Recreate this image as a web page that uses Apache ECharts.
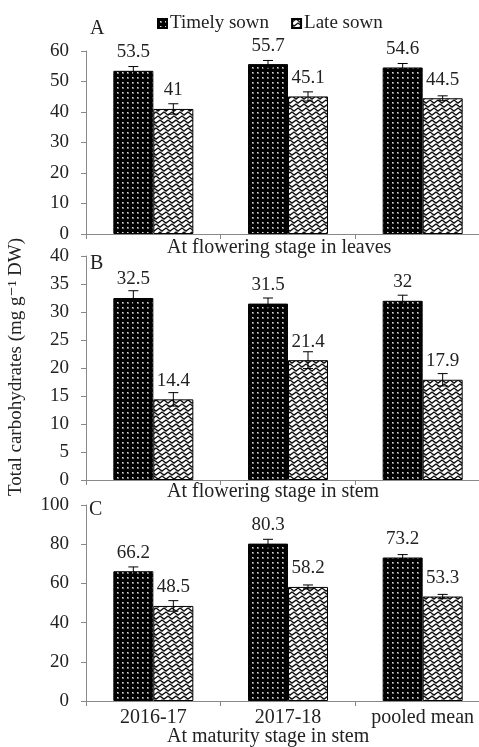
<!DOCTYPE html>
<html>
<head>
<meta charset="utf-8">
<script src="https://cdn.jsdelivr.net/npm/echarts@6/dist/echarts.min.js"></script>
<style>
  html, body { margin: 0; padding: 0; background: #fff; overflow: hidden; width: 479px; height: 747px; }
  /* chart is a bit wider than the window: the reference's plot area is cut at the right edge */
  #chart-container { width: 490px; height: 747px; }
</style>
</head>
<body>
<div id="chart-container"></div>
<script>
const categories = ['2016-17', '2017-18', 'pooled mean'];
const seriesNames = ['Timely sown', 'Late sown'];

// panel A - flowering, leaves
const timelyA = [53.5, 55.7, 54.6];
const lateA = [41, 45.1, 44.5];
const timelyAErr = [1.4, 1.2, 1.3];
const lateAErr = [1.7, 1.5, 0.8];

// panel B - flowering, stem
const timelyB = [32.5, 31.5, 32];
const lateB = [14.4, 21.4, 17.9];
const timelyBErr = [1.3, 1.0, 1.0];
const lateBErr = [1.2, 1.5, 1.1];

// panel C - maturity, stem
const timelyC = [66.2, 80.3, 73.2];
const lateC = [48.5, 58.2, 53.3];
const timelyCErr = [2.2, 2.2, 1.5];
const lateCErr = [2.7, 1.0, 1.1];

const FONT = 'Liberation Serif, DejaVu Serif, serif';
const BAR_W = 40;

function dotPattern() {
    const c = document.createElement('canvas');
    c.width = 5; c.height = 5;
    const ctx = c.getContext('2d');
    ctx.fillStyle = '#000';
    ctx.fillRect(0, 0, 5, 5);
    ctx.fillStyle = '#777';
    ctx.fillRect(2, 2, 2, 2);
    ctx.fillStyle = '#ddd';
    ctx.fillRect(2, 2, 1, 1);
    return c;
}

// herringbone: zigzag rows, each row shifted 2px so the chevrons drift diagonally
function zigzagPattern() {
    const c = document.createElement('canvas');
    c.width = 8; c.height = 16;
    const ctx = c.getContext('2d');
    ctx.fillStyle = '#fff';
    ctx.fillRect(0, 0, 8, 16);
    ctx.strokeStyle = '#111';
    ctx.lineWidth = 1.4;
    ctx.beginPath();
    for (let r = -1; r <= 4; r++) {
        const y0 = r * 4;
        const xs = ((r * 2) % 8 + 8) % 8;
        ctx.moveTo(xs - 16, y0 + 3);
        for (let x = xs - 16; x <= 16; x += 8) {
            ctx.lineTo(x + 4, y0);
            ctx.lineTo(x + 8, y0 + 3);
        }
    }
    ctx.stroke();
    return c;
}

const fills = [
    { image: dotPattern(), repeat: 'repeat' },
    { image: zigzagPattern(), repeat: 'repeat' }
];

const grids = [
    { left: 86, right: 0, top: 51, height: 183 },
    { left: 86, right: 0, top: 256, height: 224 },
    { left: 86, right: 0, top: 505, height: 196 }
];

const yRanges = [[60, 10], [40, 5], [100, 20]];

const panels = [
    [timelyA, lateA, timelyAErr, lateAErr],
    [timelyB, lateB, timelyBErr, lateBErr],
    [timelyC, lateC, timelyCErr, lateCErr]
];

const xAxis = grids.map((g, i) => ({
    type: 'category',
    gridIndex: i,
    data: categories,
    axisLine: { lineStyle: { color: '#888', width: 1 } },
    axisTick: { show: true, length: 5, lineStyle: { color: '#888' } },
    axisLabel: {
        show: i === 2,
        interval: 0,
        margin: 7,
        fontSize: 20,
        fontFamily: FONT,
        color: '#222'
    }
}));

const yAxis = grids.map((g, i) => ({
    type: 'value',
    gridIndex: i,
    min: 0,
    max: yRanges[i][0],
    interval: yRanges[i][1],
    splitLine: { show: false },
    axisLine: { show: true, lineStyle: { color: '#888', width: 1 } },
    axisTick: { show: true, length: 5, lineStyle: { color: '#888' } },
    axisLabel: { margin: 17, fontSize: 19, fontFamily: FONT, color: '#222' }
}));

function errRender(params, api) {
    const cat = api.value(0), v = api.value(1), e = api.value(2), side = api.value(3);
    const x = api.coord([cat, v])[0] + side * BAR_W / 2;
    const top = api.coord([cat, v + e])[1];
    const bot = api.coord([cat, v - e])[1];
    const cap = 5;
    const style = { stroke: '#000', lineWidth: 1 };
    return {
        type: 'group',
        children: [
            { type: 'line', shape: { x1: x, y1: top, x2: x, y2: bot }, style },
            { type: 'line', shape: { x1: x - cap, y1: top, x2: x + cap, y2: top }, style },
            { type: 'line', shape: { x1: x - cap, y1: bot, x2: x + cap, y2: bot }, style }
        ]
    };
}

const series = [];
panels.forEach((p, i) => {
    [0, 1].forEach(s => {
        series.push({
            name: seriesNames[s],
            type: 'bar',
            xAxisIndex: i,
            yAxisIndex: i,
            data: p[s],
            barWidth: BAR_W,
            barGap: '0%',
            itemStyle: { color: fills[s], borderColor: '#000', borderWidth: 1 },
            label: {
                show: true,
                position: 'top',
                distance: 9,
                fontSize: 19,
                fontFamily: FONT,
                color: '#222'
            }
        });
    });
    const errData = [];
    p[0].forEach((v, k) => errData.push([k, v, p[2][k], -1]));
    p[1].forEach((v, k) => errData.push([k, v, p[3][k], 1]));
    series.push({
        type: 'custom',
        xAxisIndex: i,
        yAxisIndex: i,
        renderItem: errRender,
        data: errData,
        z: 5,
        silent: true
    });
});

const textStyle = { fontSize: 20, fontFamily: FONT, fill: '#222' };

const myChart = echarts.init(document.getElementById('chart-container'));
const option = {
    animation: false,
    legend: {
        data: seriesNames,
        left: 157,
        top: 14,
        padding: 0,
        itemWidth: 9,
        itemHeight: 9,
        itemGap: 22,
        icon: 'rect',
        textStyle: { fontSize: 19, fontFamily: FONT, color: '#222', padding: [0, 0, 0, -2] }
    },
    grid: grids,
    xAxis: xAxis,
    yAxis: yAxis,
    series: series,
    graphic: [
        { type: 'text', left: 90, top: 19, style: Object.assign({ text: 'A' }, textStyle) },
        { type: 'text', left: 90, top: 254, style: Object.assign({ text: 'B' }, textStyle) },
        { type: 'text', left: 89, top: 500, style: Object.assign({ text: 'C' }, textStyle) },
        { type: 'text', left: 167, top: 238, style: Object.assign({ text: 'At flowering stage in leaves' }, textStyle) },
        { type: 'text', left: 167, top: 482, style: Object.assign({ text: 'At flowering stage in stem' }, textStyle) },
        { type: 'text', left: 167, top: 727, style: Object.assign({ text: 'At maturity stage in stem' }, textStyle) },
        {
            type: 'text',
            x: 16, y: 367,
            rotation: Math.PI / 2,
            style: {
                text: 'Total carbohydrates (mg g\u207B\u00B9 DW)',
                fontSize: 19, fontFamily: FONT, fill: '#222',
                align: 'center', verticalAlign: 'middle'
            }
        }
    ]
};

option && myChart.setOption(option);
</script>
</body>
</html>
